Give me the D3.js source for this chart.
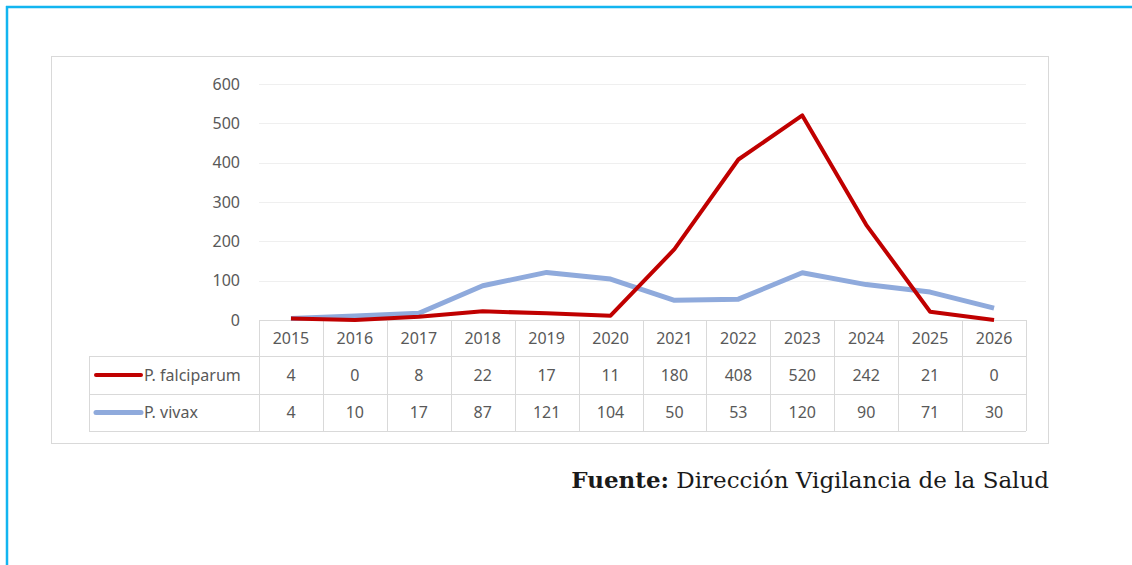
<!DOCTYPE html>
<html>
<head>
<meta charset="utf-8">
<script src="https://cdn.jsdelivr.net/npm/d3@7"></script>
<style>
  body { margin: 0; background: #fff; }
  svg { display: block; }
</style>
</head>
<body>
<div id="chart"></div>
<script>
// data
const years = ["2015", "2016", "2017", "2018", "2019", "2020", "2021", "2022", "2023", "2024", "2025", "2026"];
const falciparum = [4, 0, 8, 22, 17, 11, 180, 408, 520, 242, 21, 0];
const vivax = [4, 10, 17, 87, 121, 104, 50, 53, 120, 90, 71, 30];
const seriesNames = ["P. falciparum", "P. vivax"];
const yTicks = [0, 100, 200, 300, 400, 500, 600];

const width = 1132;
const height = 565;
const colors = ["#c00000", "#8faadc"];
const labelFont = "'Noto Sans', sans-serif";
const labelSize = 16;

const svg = d3.select("#chart")
    .append("svg")
    .attr("width", width)
    .attr("height", height);

// blue frame (top + left)
svg.append("line").attr("x1", 6).attr("x2", width).attr("y1", 7).attr("y2", 7)
    .attr("stroke", "#12b5f0").attr("stroke-width", 2.5);
svg.append("line").attr("x1", 7).attr("x2", 7).attr("y1", 6).attr("y2", height)
    .attr("stroke", "#12b5f0").attr("stroke-width", 2.5);

// chart box
svg.append("rect")
    .attr("x", 51.5).attr("y", 56.5)
    .attr("width", 997).attr("height", 387)
    .attr("fill", "#fff")
    .attr("stroke", "#d9d9d9");

const plotLeft = 259, plotRight = 1026;
const x = d3.scaleBand().domain(years).range([plotLeft, plotRight]);
const y = d3.scaleLinear().domain([0, 600]).range([320, 84]);

// gridlines
svg.append("g")
    .selectAll("line")
    .data(yTicks.filter(d => d > 0))
    .join("line")
    .attr("x1", plotLeft).attr("x2", plotRight)
    .attr("y1", d => Math.round(y(d)) + 0.5)
    .attr("y2", d => Math.round(y(d)) + 0.5)
    .attr("stroke", "#efefef");

// y axis labels
const yAxis = d3.axisLeft(y).tickValues(yTicks).tickSize(0).tickPadding(19);
svg.append("g")
    .attr("transform", `translate(${plotLeft},0)`)
    .call(yAxis)
    .call(g => g.select(".domain").remove())
    .selectAll("text")
    .attr("font-family", labelFont)
    .attr("font-size", labelSize)
    .attr("fill", "#595959");

// data table
const rowTop = [320, 356, 394];
const rowBottom = [356, 394, 431];
const legendLeft = 89;
const tableColor = "#d9d9d9";
const table = svg.append("g").attr("stroke", tableColor).attr("fill", "none");

// horizontal lines
table.append("line").attr("x1", plotLeft).attr("x2", plotRight).attr("y1", 320.5).attr("y2", 320.5);
[356, 394, 431].forEach(yy => {
  table.append("line").attr("x1", legendLeft).attr("x2", plotRight)
      .attr("y1", yy + 0.5).attr("y2", yy + 0.5);
});
// vertical lines
table.append("line").attr("x1", legendLeft + 0.5).attr("x2", legendLeft + 0.5).attr("y1", 356).attr("y2", 431);
years.concat(["end"]).forEach((yr, i) => {
  const xx = Math.round(plotLeft + i * x.bandwidth()) + 0.5;
  table.append("line").attr("x1", xx).attr("x2", xx).attr("y1", 320).attr("y2", 431);
});

const cellText = svg.append("g")
    .attr("font-family", labelFont)
    .attr("font-size", labelSize)
    .attr("fill", "#595959")
    .attr("text-anchor", "middle");

cellText.selectAll(".yr")
    .data(years)
    .join("text")
    .attr("x", d => x(d) + x.bandwidth() / 2)
    .attr("y", (rowTop[0] + rowBottom[0]) / 2)
    .attr("dy", "0.35em")
    .text(d => d);

[falciparum, vivax].forEach((vals, r) => {
  cellText.append("g").selectAll("text")
      .data(vals)
      .join("text")
      .attr("x", (d, i) => x(years[i]) + x.bandwidth() / 2)
      .attr("y", (rowTop[r + 1] + rowBottom[r + 1]) / 2)
      .attr("dy", "0.35em")
      .text(d => d);

  const cy = (rowTop[r + 1] + rowBottom[r + 1]) / 2;
  svg.append("line")
      .attr("x1", 96).attr("x2", 141)
      .attr("y1", cy).attr("y2", cy)
      .attr("stroke", colors[r])
      .attr("stroke-width", r === 0 ? 4 : 5)
      .attr("stroke-linecap", "round");
  svg.append("text")
      .attr("x", 144).attr("y", cy)
      .attr("dy", "0.35em")
      .attr("font-family", labelFont)
      .attr("font-size", labelSize)
      .attr("fill", "#595959")
      .text(seriesNames[r]);
});

// lines
const line = d3.line()
    .x((d, i) => x(years[i]) + x.bandwidth() / 2)
    .y(d => y(d));

svg.append("path")
    .datum(vivax)
    .attr("d", line)
    .attr("fill", "none")
    .attr("stroke", colors[1])
    .attr("stroke-width", 5)
    .attr("stroke-linejoin", "round");

svg.append("path")
    .datum(falciparum)
    .attr("d", line)
    .attr("fill", "none")
    .attr("stroke", colors[0])
    .attr("stroke-width", 4)
    .attr("stroke-linejoin", "round");

// source
const src = svg.append("text")
    .attr("x", 1049).attr("y", 488)
    .attr("text-anchor", "end")
    .attr("font-family", "'DejaVu Serif', serif")
    .attr("font-size", 23)
    .attr("fill", "#1a1a1a");
src.append("tspan").attr("font-weight", "bold").text("Fuente:");
src.append("tspan").text(" Dirección Vigilancia de la Salud");
</script>
</body>
</html>
